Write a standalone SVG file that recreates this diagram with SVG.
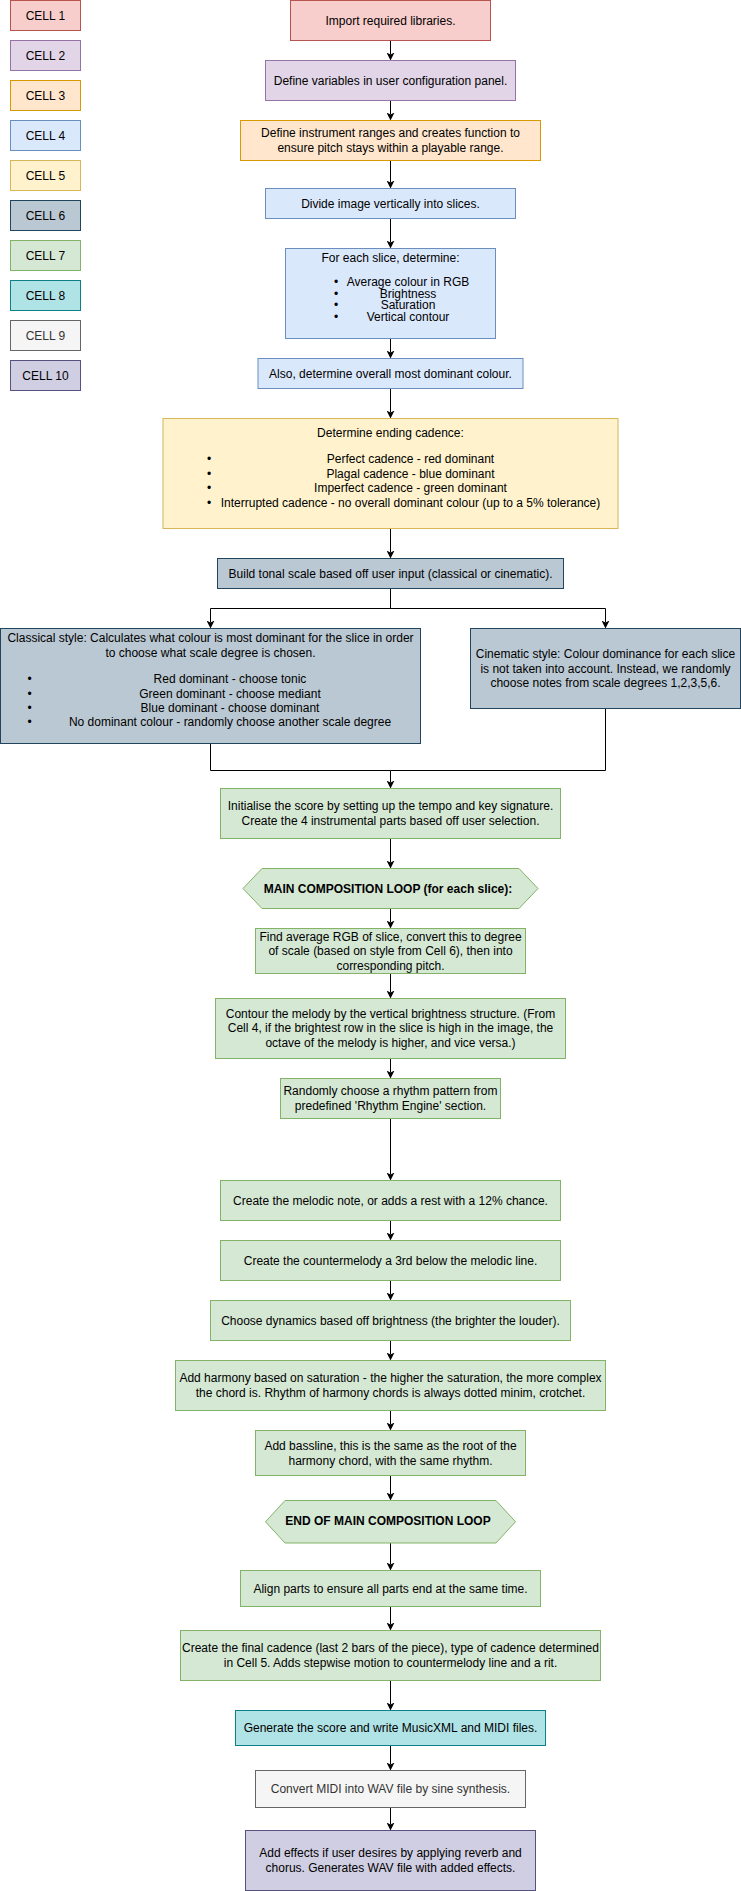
<svg xmlns="http://www.w3.org/2000/svg" width="741" height="1891" viewBox="0 0 741 1891">
<style>
text{font-family:"Liberation Sans",Arial,Helvetica,sans-serif;font-size:12px;fill:#000;text-anchor:middle}
.b{font-weight:bold}
.g{fill:#333333}
.c1{fill:#f8cecc;stroke:#b85450}
.c2{fill:#e1d5e7;stroke:#9673a6}
.c3{fill:#ffe6cc;stroke:#d79b00}
.c4{fill:#dae8fc;stroke:#6c8ebf}
.c5{fill:#fff2cc;stroke:#d6b656}
.c6{fill:#bac8d3;stroke:#23445d}
.c7{fill:#d5e8d4;stroke:#82b366}
.c8{fill:#b0e3e6;stroke:#0e8088}
.c9{fill:#f5f5f5;stroke:#666666}
.c10{fill:#d0cee2;stroke:#56517e}
.e{fill:none;stroke:#000;stroke-width:1;marker-end:url(#arr)}
.l{fill:none;stroke:#000;stroke-width:1}
</style>
<defs>
<marker id="arr" viewBox="0 0 8 8" markerWidth="8" markerHeight="8" refX="2" refY="4" orient="auto" markerUnits="userSpaceOnUse">
<path d="M0,0 L8,4 L0,8 L2,4 z" fill="#000"/>
</marker>
</defs>
<rect width="741" height="1891" fill="#fff"/>

<g id="legend">
<g id="leg1"><rect class="c1" x="10.5" y="0.5" width="70" height="30"/><text x="45.5" y="19.5">CELL 1</text></g>
<g id="leg2"><rect class="c2" x="10.5" y="40.5" width="70" height="30"/><text x="45.5" y="59.5">CELL 2</text></g>
<g id="leg3"><rect class="c3" x="10.5" y="80.5" width="70" height="30"/><text x="45.5" y="99.5">CELL 3</text></g>
<g id="leg4"><rect class="c4" x="10.5" y="120.5" width="70" height="30"/><text x="45.5" y="139.5">CELL 4</text></g>
<g id="leg5"><rect class="c5" x="10.5" y="160.5" width="70" height="30"/><text x="45.5" y="179.5">CELL 5</text></g>
<g id="leg6"><rect class="c6" x="10.5" y="200.5" width="70" height="30"/><text x="45.5" y="219.5">CELL 6</text></g>
<g id="leg7"><rect class="c7" x="10.5" y="240.5" width="70" height="30"/><text x="45.5" y="259.5">CELL 7</text></g>
<g id="leg8"><rect class="c8" x="10.5" y="280.5" width="70" height="30"/><text x="45.5" y="299.5">CELL 8</text></g>
<g id="leg9"><rect class="c9" x="10.5" y="320.5" width="70" height="30"/><text class="g" x="45.5" y="339.5">CELL 9</text></g>
<g id="leg10"><rect class="c10" x="10.5" y="360.5" width="70" height="30"/><text x="45.5" y="379.5">CELL 10</text></g>
</g>

<g id="connectors">
<path class="e" d="M390.5,40.5 V54.5"/>
<path class="e" d="M390.5,100.5 V114.5"/>
<path class="e" d="M390.5,160.5 V182.5"/>
<path class="e" d="M390.5,218.5 V242.5"/>
<path class="e" d="M390.5,338.5 V352.5"/>
<path class="e" d="M390.5,388.5 V412.5"/>
<path class="e" d="M390.5,528.5 V552.5"/>
<path class="e" d="M390.5,588.5 V608.5 H210.5 V622.5"/>
<path class="e" d="M390.5,588.5 V608.5 H605.5 V622.5"/>
<path class="l" d="M210.5,743.5 V770.5 H390.5"/>
<path class="l" d="M605.5,708.5 V770.5 H390.5"/>
<path class="e" d="M390.5,770.5 V782.5"/>
<path class="e" d="M390.5,838.5 V862.5"/>
<path class="e" d="M390.5,908.5 V922.5"/>
<path class="e" d="M390.5,973.5 V992.5"/>
<path class="e" d="M390.5,1058.5 V1072.5"/>
<path class="e" d="M390.5,1118.5 V1174.5"/>
<path class="e" d="M390.5,1220.5 V1234.5"/>
<path class="e" d="M390.5,1280.5 V1294.5"/>
<path class="e" d="M390.5,1340.5 V1354.5"/>
<path class="e" d="M390.5,1410.5 V1424.5"/>
<path class="e" d="M390.5,1475.5 V1494.5"/>
<path class="e" d="M390.5,1543 V1564.5"/>
<path class="e" d="M390.5,1606.5 V1624.5"/>
<path class="e" d="M390.5,1680.5 V1704.5"/>
<path class="e" d="M390.5,1745.5 V1764.5"/>
<path class="e" d="M390.5,1807.5 V1824.5"/>
</g>

<g id="n1"><rect class="c1" x="290.5" y="0.5" width="200" height="40"/><text x="390.5" y="24.5">Import required libraries.</text></g>
<g id="n2"><rect class="c2" x="265.5" y="60.5" width="250" height="40"/><text x="390.5" y="84.5">Define variables in user configuration panel.</text></g>
<g id="n3"><rect class="c3" x="240.5" y="120.5" width="300" height="40"/><text x="390.5" y="137">Define instrument ranges and creates function to</text><text x="390.5" y="152">ensure pitch stays within a playable range.</text></g>
<g id="n4"><rect class="c4" x="265.5" y="188.5" width="250" height="30"/><text x="390.5" y="207.5">Divide image vertically into slices.</text></g>
<g id="n5"><rect class="c4" x="285.5" y="248.5" width="210" height="90"/>
<text x="390.5" y="261.5">For each slice, determine:</text>
<text x="336" y="286">•</text><text x="408" y="286">Average colour in RGB</text>
<text x="336" y="297.5">•</text><text x="408" y="297.5">Brightness</text>
<text x="336" y="309">•</text><text x="408" y="309">Saturation</text>
<text x="336" y="321">•</text><text x="408" y="321">Vertical contour</text>
</g>
<g id="n6"><rect class="c4" x="258" y="358.5" width="265" height="30"/><text x="390.5" y="377.5">Also, determine overall most dominant colour.</text></g>
<g id="n7"><rect class="c5" x="163" y="418.5" width="455" height="110"/>
<text x="390.5" y="437.3">Determine ending cadence:</text>
<text x="209" y="463">•</text><text x="410.5" y="463">Perfect cadence - red dominant</text>
<text x="209" y="477.5">•</text><text x="410.5" y="477.5">Plagal cadence - blue dominant</text>
<text x="209" y="492">•</text><text x="410.5" y="492">Imperfect cadence - green dominant</text>
<text x="209" y="506.5">•</text><text x="410.5" y="506.5">Interrupted cadence - no overall dominant colour (up to a 5% tolerance)</text>
</g>
<g id="n8"><rect class="c6" x="217.5" y="558.5" width="346" height="30"/><text x="390.5" y="577.5">Build tonal scale based off user input (classical or cinematic).</text></g>
<g id="n9"><rect class="c6" x="0.5" y="628.5" width="420" height="115"/>
<text x="210.5" y="641.7">Classical style: Calculates what colour is most dominant for the slice in order</text>
<text x="210.5" y="656.7">to choose what scale degree is chosen.</text>
<text x="29.5" y="683">•</text><text x="230" y="683">Red dominant - choose tonic</text>
<text x="29.5" y="697.5">•</text><text x="230" y="697.5">Green dominant - choose mediant</text>
<text x="29.5" y="712">•</text><text x="230" y="712">Blue dominant - choose dominant</text>
<text x="29.5" y="726">•</text><text x="230" y="726">No dominant colour - randomly choose another scale degree</text>
</g>
<g id="n10"><rect class="c6" x="470.5" y="628.5" width="270" height="80"/>
<text x="605.5" y="658">Cinematic style: Colour dominance for each slice</text>
<text x="605.5" y="672.5">is not taken into account. Instead, we randomly</text>
<text x="605.5" y="687">choose notes from scale degrees 1,2,3,5,6.</text>
</g>
<g id="n11"><rect class="c7" x="220.5" y="788.5" width="340" height="50"/><text x="390.5" y="810">Initialise the score by setting up the tempo and key signature.</text><text x="390.5" y="825">Create the 4 instrumental parts based off user selection.</text></g>
<g id="n12"><polygon class="c7" points="243,888.5 262,868.5 519,868.5 538,888.5 519,908.5 262,908.5"/><text class="b" x="388" y="892.5">MAIN COMPOSITION LOOP (for each slice):</text></g>
<g id="n13"><rect class="c7" x="255.5" y="928.5" width="270" height="45"/><text x="390.5" y="940.5">Find average RGB of slice, convert this to degree</text><text x="390.5" y="955">of scale (based on style from Cell 6), then into</text><text x="390.5" y="969.5">corresponding pitch.</text></g>
<g id="n14"><rect class="c7" x="215.5" y="998.5" width="350" height="60"/><text x="390.5" y="1017.5">Contour the melody by the vertical brightness structure. (From</text><text x="390.5" y="1032">Cell 4, if the brightest row in the slice is high in the image, the</text><text x="390.5" y="1046.5">octave of the melody is higher, and vice versa.)</text></g>
<g id="n15"><rect class="c7" x="280.5" y="1078.5" width="220" height="40"/><text x="390.5" y="1095">Randomly choose a rhythm pattern from</text><text x="390.5" y="1110">predefined 'Rhythm Engine' section.</text></g>
<g id="n16"><rect class="c7" x="220.5" y="1180.5" width="340" height="40"/><text x="390.5" y="1204.5">Create the melodic note, or adds a rest with a 12% chance.</text></g>
<g id="n17"><rect class="c7" x="220.5" y="1240.5" width="340" height="40"/><text x="390.5" y="1264.5">Create the countermelody a 3rd below the melodic line.</text></g>
<g id="n18"><rect class="c7" x="210.5" y="1300.5" width="360" height="40"/><text x="390.5" y="1324.5">Choose dynamics based off brightness (the brighter the louder).</text></g>
<g id="n19"><rect class="c7" x="175.5" y="1360.5" width="430" height="50"/><text x="390.5" y="1382">Add harmony based on saturation - the higher the saturation, the more complex</text><text x="390.5" y="1397">the chord is. Rhythm of harmony chords is always dotted minim, crotchet.</text></g>
<g id="n20"><rect class="c7" x="255.5" y="1430.5" width="270" height="45"/><text x="390.5" y="1449.5">Add bassline, this is the same as the root of the</text><text x="390.5" y="1464.5">harmony chord, with the same rhythm.</text></g>
<g id="n21"><polygon class="c7" points="265.5,1521.75 285,1500.5 496,1500.5 515.5,1521.75 496,1543 285,1543"/><text class="b" x="388" y="1525">END OF MAIN COMPOSITION LOOP</text></g>
<g id="n22"><rect class="c7" x="240.5" y="1570.5" width="300" height="36"/><text x="390.5" y="1592.5">Align parts to ensure all parts end at the same time.</text></g>
<g id="n23"><rect class="c7" x="180.5" y="1630.5" width="420" height="50"/><text x="390.5" y="1652">Create the final cadence (last 2 bars of the piece), type of cadence determined</text><text x="390.5" y="1667">in Cell 5. Adds stepwise motion to countermelody line and a rit.</text></g>
<g id="n24"><rect class="c8" x="235.5" y="1710.5" width="310" height="35"/><text x="390.5" y="1732">Generate the score and write MusicXML and MIDI files.</text></g>
<g id="n25"><rect class="c9" x="255.5" y="1770.5" width="270" height="37"/><text class="g" x="390.5" y="1793">Convert MIDI into WAV file by sine synthesis.</text></g>
<g id="n26"><rect class="c10" x="245.5" y="1830.5" width="290" height="60"/><text x="390.5" y="1857">Add effects if user desires by applying reverb and</text><text x="390.5" y="1872">chorus. Generates WAV file with added effects.</text></g>
</svg>
